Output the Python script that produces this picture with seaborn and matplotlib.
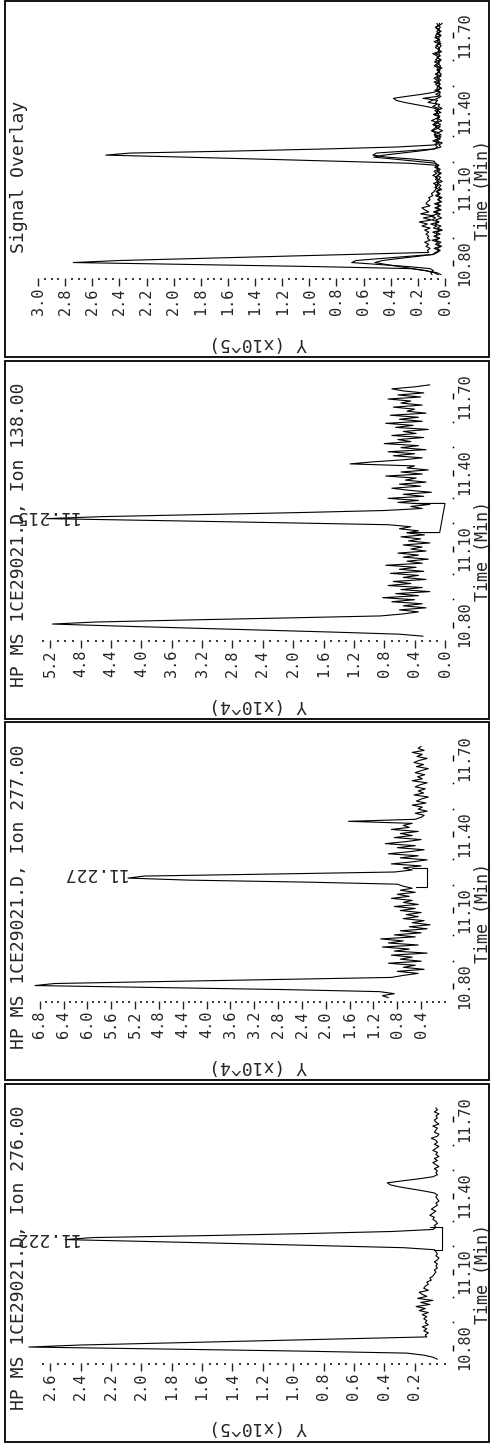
import numpy as np
import matplotlib
matplotlib.use("Agg")
import matplotlib.pyplot as plt
from matplotlib.patches import Rectangle
import seaborn as sns

# scan times (min): first scan and scan interval, same for all ions (SIM)
t_first = 10.754
t_step = 0.008

# ion 276.00, abundance x10^5
ion276 = [0.05, 0.08, 0.14, 0.25, 0.95, 1.83, 2.74, 2.40, 1.83, 1.26, 0.69, 0.12,
          0.13, 0.11, 0.14, 0.12, 0.15, 0.11, 0.13, 0.12, 0.14,
          0.12, 0.15, 0.11, 0.17, 0.13, 0.19, 0.10, 0.16, 0.08, 0.18, 0.12, 0.15, 0.17, 0.11, 0.14,
          0.13, 0.11, 0.12, 0.09, 0.10, 0.08, 0.07,
          0.06, 0.07, 0.05, 0.06, 0.05, 0.07, 0.05, 0.04, 0.06, 0.05, 0.06, 0.07,
          0.27, 0.81, 1.35, 1.92, 2.50, 2.32, 1.55, 0.90, 0.35, 0.08,
          0.06, 0.07, 0.05, 0.06, 0.08, 0.07, 0.10, 0.08, 0.06, 0.09, 0.07, 0.05, 0.06, 0.04, 0.05, 0.06,
          0.05, 0.07, 0.14, 0.22, 0.30, 0.36, 0.38, 0.28, 0.17, 0.08, 0.05, 0.06,
          0.05, 0.07, 0.04, 0.06, 0.08, 0.05, 0.07, 0.04, 0.06, 0.05,
          0.08, 0.06, 0.04, 0.07, 0.05, 0.06, 0.09, 0.05, 0.04, 0.07,
          0.06, 0.05, 0.08, 0.04, 0.06, 0.07, 0.05, 0.06, 0.04, 0.07,
          0.05, 0.06]

# ion 277.00, abundance x10^4
ion277 = [0.95, 1.05, 0.85, 1.10, 2.68, 4.78, 6.88, 6.55, 4.70, 2.80, 0.90, 0.70,
          0.45, 0.80, 0.35, 0.70, 0.50, 0.95, 0.40, 0.75, 0.55, 0.90,
          0.30, 0.85, 0.60, 1.05, 0.45, 0.95, 0.70, 1.08, 0.50, 0.85,
          0.40, 0.75, 0.30, 0.60, 0.25, 0.55, 0.35, 0.70, 0.45, 0.65, 0.40,
          0.75, 0.50, 0.85, 0.45, 0.70, 0.55, 0.90, 0.60, 0.80, 0.50, 0.75, 0.55, 0.70, 0.80,
          2.30, 4.30, 5.32, 5.05, 2.90, 0.85, 0.55,
          0.70, 0.40, 0.90, 0.55, 0.30, 0.75, 0.45, 0.95, 0.60, 0.35,
          0.80, 0.50, 1.00, 0.65, 0.40, 0.85, 0.55, 0.75, 0.45, 0.90,
          0.60, 0.70, 0.55,
          1.62, 0.50,
          0.40, 0.35, 0.50, 0.30, 0.45, 0.38, 0.55, 0.32, 0.48, 0.40,
          0.28, 0.52, 0.36, 0.45, 0.33, 0.50, 0.42, 0.30, 0.55, 0.38,
          0.46, 0.34, 0.50, 0.40, 0.28, 0.48, 0.36, 0.52, 0.44, 0.30,
          0.47, 0.38, 0.55, 0.35, 0.45, 0.40]

# ion 138.00, abundance x10^4
ion138 = [0.29, 0.60, 1.45, 2.40, 3.35, 4.30, 5.17, 4.60, 3.40, 2.10, 0.85, 0.55,
          0.35, 0.60, 0.25, 0.55, 0.30, 0.70, 0.40, 0.82, 0.35, 0.65,
          0.20, 0.58, 0.30, 0.75, 0.45, 0.68, 0.25, 0.55, 0.35, 0.72,
          0.28, 0.60, 0.38, 0.78, 0.30, 0.50, 0.22, 0.55, 0.35, 0.62,
          0.25, 0.45, 0.30, 0.55, 0.20, 0.48, 0.32, 0.58, 0.27, 0.50,
          0.35, 0.60, 0.45,
          0.75, 2.20, 3.70, 5.25, 4.50, 3.20, 1.90, 0.80, 0.30,
          0.45, 0.20, 0.62, 0.35, 0.75, 0.28, 0.55, 0.18, 0.48, 0.70,
          0.32, 0.60, 0.25, 0.52, 0.38, 0.78, 0.30, 0.58, 0.22, 0.50, 0.40,
          1.25, 0.95,
          0.55, 0.30, 0.68, 0.40, 0.75, 0.25, 0.58, 0.35, 0.80, 0.45,
          0.62, 0.28, 0.70, 0.38, 0.55, 0.22, 0.65, 0.42, 0.78, 0.30,
          0.60, 0.35, 0.72, 0.25, 0.50, 0.40, 0.68, 0.30, 0.58, 0.45,
          0.75, 0.32, 0.62, 0.28, 0.55, 0.70, 0.40, 0.20]

# integration baselines (abundance, time)
base138_v = [0.42, 0.00, 0.07, 0.50]
base138_t = [11.278, 11.278, 11.163, 11.163]
base277_v = [0.55, 0.30, 0.30, 0.48]
base277_t = [11.266, 11.266, 11.190, 11.190]
base276_v = [0.10, 0.02, 0.02, 0.07]
base276_t = [11.275, 11.275, 11.183, 11.183]

titles = ["Signal Overlay",
          "HP MS 1CE29021.D, Ion 138.00",
          "HP MS 1CE29021.D, Ion 277.00",
          "HP MS 1CE29021.D, Ion 276.00"]
ylabels = ["Y (x10^5)", "Y (x10^4)", "Y (x10^4)", "Y (x10^5)"]
peak_labels = ["11.215", "11.227", "11.222"]

time_ticks = [10.80, 11.10, 11.40, 11.70]
time_minor = [10.90, 11.00, 11.20, 11.30, 11.50, 11.60]
ticks_overlay = [0.0, 0.2, 0.4, 0.6, 0.8, 1.0, 1.2, 1.4, 1.6, 1.8, 2.0, 2.2, 2.4, 2.6, 2.8, 3.0]
ticks_138 = [0.0, 0.4, 0.8, 1.2, 1.6, 2.0, 2.4, 2.8, 3.2, 3.6, 4.0, 4.4, 4.8, 5.2]
ticks_277 = [0.4, 0.8, 1.2, 1.6, 2.0, 2.4, 2.8, 3.2, 3.6, 4.0, 4.4, 4.8, 5.2, 5.6, 6.0, 6.4, 6.8]
ticks_276 = [0.2, 0.4, 0.6, 0.8, 1.0, 1.2, 1.4, 1.6, 1.8, 2.0, 2.2, 2.4, 2.6]


def times_for(vals):
    return t_first + t_step * np.arange(len(vals))


sns.set_style("white")
plt.rcParams['font.family'] = ['DejaVu Sans Mono']

W, H = 492, 1446
PH = 361.5
fig = plt.figure(figsize=(W / 100, H / 100), dpi=100)

# per panel: traces, x max, ticks, minor step, baseline, label anchor
panels = [
    dict(traces=[ion276, [v / 10 for v in ion277], [v / 10 for v in ion138]],
         xmax=3.0, ticks=ticks_overlay, minor=0.05, base=None, lab=None),
    dict(traces=[ion138], xmax=5.36, ticks=ticks_138, minor=0.1,
         base=(base138_v, base138_t), lab=(peak_labels[0], 4.84, 11.230)),
    dict(traces=[ion277], xmax=6.83, ticks=ticks_277, minor=0.1,
         base=(base277_v, base277_t), lab=(peak_labels[1], 5.36, 11.246)),
    dict(traces=[ion276], xmax=2.68, ticks=ticks_276, minor=0.05,
         base=(base276_v, base276_t), lab=(peak_labels[2], 2.42, 11.231)),
]

for k, p in enumerate(panels):
    o = PH * k
    # frame
    top = max(1, o - 1)
    bot = o + 357
    fig.add_artist(Rectangle((5 / W, 1 - bot / H), 484 / W, (bot - top) / H,
                             transform=fig.transFigure, fill=False,
                             ec='black', lw=1.3))

    ax = fig.add_axes([38 / W, 1 - (o + 278) / H, 407 / W, 260 / H])
    ax.set_facecolor('none')
    for vals in p['traces']:
        sns.lineplot(x=vals, y=times_for(vals), orient='y', sort=False,
                     estimator=None, color='black', lw=0.8, ax=ax)
    if p['base'] is not None:
        ax.plot(p['base'][0], p['base'][1], color='black', lw=0.8)
    for ln in ax.lines:
        ln.set_clip_on(False)

    ax.set_xlim(p['xmax'], 0)
    ax.set_ylim(10.741, 11.767)
    for s in ax.spines.values():
        s.set_visible(False)

    # abundance axis (bottom in this orientation)
    ax.set_xticks(p['ticks'])
    ax.set_xticklabels([f"{t:.1f}" for t in p['ticks']])
    mt = np.arange(0, p['xmax'], p['minor'])
    ax.set_xticks(mt, minor=True)
    ax.tick_params(axis='x', which='major', direction='out', length=6,
                   width=1, pad=1, labelsize=11, labelrotation=90, bottom=True)
    ax.tick_params(axis='x', which='minor', direction='out', length=1.2,
                   width=1.3, bottom=True)

    # time axis (right side)
    ax.yaxis.tick_right()
    ax.set_yticks(time_ticks)
    ax.set_yticklabels([f"{t:.2f}" for t in time_ticks])
    ax.tick_params(axis='y', length=0, pad=8.6, labelsize=11, labelrotation=90)
    plt.setp(ax.get_yticklabels(), va='center')
    tr = ax.get_yaxis_transform()
    ax.plot([1.0197] * len(time_ticks), time_ticks, ls='none', marker='|',
            ms=4, mew=1, color='black', transform=tr, clip_on=False)
    ax.plot([1.0197] * len(time_minor), time_minor, ls='none', marker='s',
            ms=1.1, mew=0, color='black', transform=tr, clip_on=False)
    ax.text(1.0934, 11.09, "Time (Min)", transform=tr, rotation=90,
            ha='center', va='center', fontsize=12)
    ax.set_xlabel("")
    ax.set_ylabel("")

    # title and abundance label
    ty = 0.096 if k == 0 else -0.1846
    ax.text(-0.0467, ty, titles[k], transform=ax.transAxes, rotation=90,
            rotation_mode='anchor', ha='left', va='center', fontsize=13)
    ax.text(0.5405, -0.25, ylabels[k], transform=ax.transAxes, rotation=180,
            ha='center', va='center', fontsize=13)

    if p['lab'] is not None:
        txt, lx, ly = p['lab']
        ax.text(lx, ly, txt, rotation=180, rotation_mode='anchor',
                ha='left', va='center', fontsize=13, clip_on=False)

fig.savefig("out.png", dpi=100)
